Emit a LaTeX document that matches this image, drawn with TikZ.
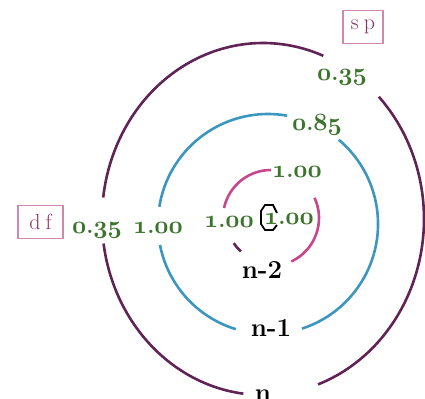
\documentclass[tikz,border=0pt]{standalone}
\definecolor{outerc}{RGB}{95,35,85}
\definecolor{midc}{RGB}{60,150,190}
\definecolor{innerc}{RGB}{200,70,140}
\definecolor{valgreen}{RGB}{60,115,45}
\definecolor{boxpink}{RGB}{210,135,175}
\definecolor{orbtext}{RGB}{135,50,100}
\newcommand\osn[1]{{\usefont{OML}{cmm}{b}{it}#1}}
\newcommand\sval[2]{\osn{#1}.\osn{#2}}
\begin{document}
\begin{tikzpicture}[x=1bp, y=1bp,
  shell/.style = {line width=2.6bp},
  val/.style = {anchor=base, text=valgreen, font=\fontsize{23}{27}\selectfont\bfseries},
  lvl/.style = {anchor=base, font=\fontsize{26}{30}\selectfont\bfseries},
  orb/.style = {draw=boxpink, line width=1.2bp, text=orbtext, inner sep=0pt,
                minimum height=33bp, font=\fontsize{22}{26}\selectfont}]
\useasboundingbox (0,0) rectangle (425,399);
\coordinate (oc) at (263,180);
\coordinate (mc) at (268,175);
\coordinate (ic) at (271,181);
% shell n
\draw [shell, outerc] (oc) ++(68:161 and 176) arc [start angle=68, end angle=173, x radius=161, y radius=176];
\draw [shell, outerc] (oc) ++(188:161 and 176) arc [start angle=188, end angle=263, x radius=161, y radius=176];
\draw [shell, outerc] (oc) ++(290:161 and 176) arc [start angle=290, end angle=404, x radius=161, y radius=176];
% shell n-1
\draw [shell, midc] (mc) ++(80:110) arc [start angle=80, end angle=171, radius=110];
\draw [shell, midc] (mc) ++(191:110) arc [start angle=191, end angle=253, radius=110];
\draw [shell, midc] (mc) ++(288:110) arc [start angle=288, end angle=410, radius=110];
% shell n-2
\draw [shell, innerc] (ic) ++(90:48) arc [start angle=90, end angle=168, radius=48];
\draw [shell, innerc] (ic) ++(25:48) arc [start angle=25, end angle=-65, radius=48];
\draw [shell, outerc] (ic) ++(214:45) arc [start angle=214, end angle=228, radius=45];
% same group
\draw [line width=1.8bp] (277,186) -- (273,194) -- (265,194) -- (261,188) -- (261,175)
  -- (265,169) -- (273,169) -- (277,174);
\node [orb, minimum width=40bp] (sp) at (363,372) {s\hspace{5bp}p};
\node [orb, minimum width=45bp] (df) at (40.5,177) {d\hspace{5bp}f};
\node [val] (spval) at (342,319) {\sval{0}{35}};
\node [val] (nspval) at (317,269) {\sval{0}{85}};
\node [val] (ntop) at (297,222) {\sval{1}{00}};
\node [val] (dfval) at (97,166) {\sval{0}{35}};
\node [val] (nmone) at (158,166) {\sval{1}{00}};
\node [val] (nmtwo) at (229,172) {\sval{1}{00}};
\node [val] (same) at (289,175) {\sval{1}{00}};
\node [lvl] (ntwo) at (262,121) {n-2};
\node [lvl] (none) at (271,63) {n-1};
\node [lvl] (nzero) at (263,-2) {n};
\end{tikzpicture}
\end{document}
